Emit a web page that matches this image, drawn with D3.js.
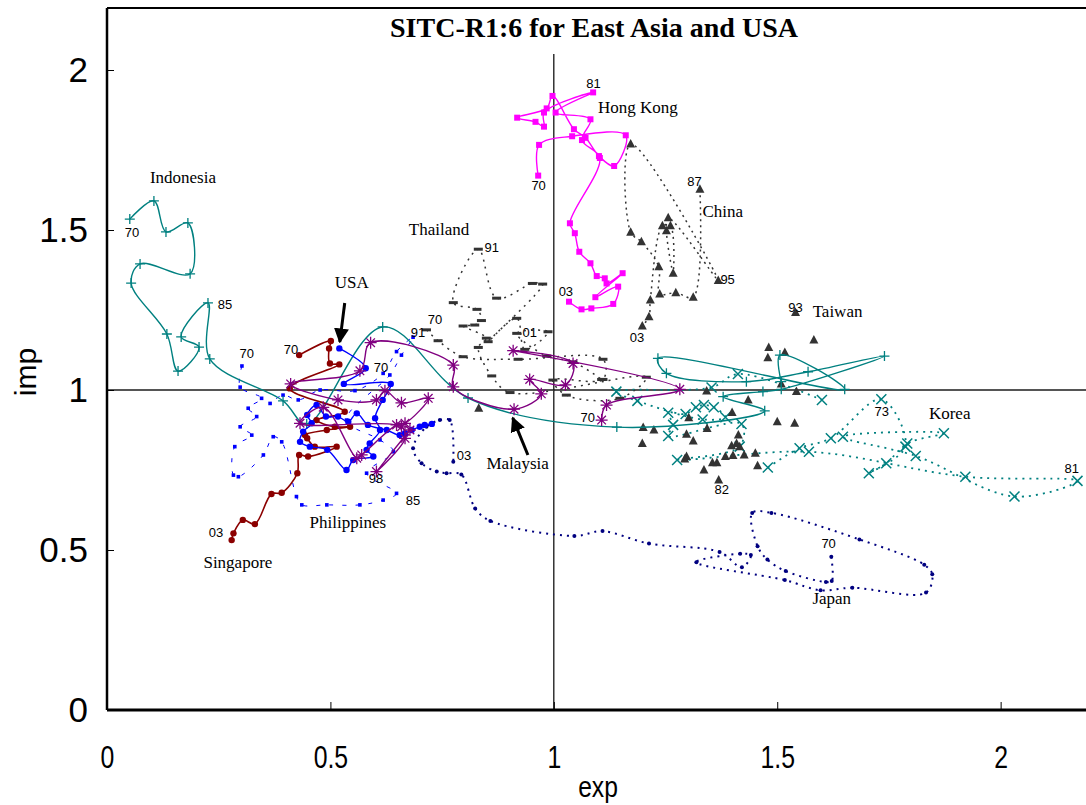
<!DOCTYPE html>
<html><head><meta charset="utf-8">
<script src="https://cdn.jsdelivr.net/npm/d3@7"></script>
<style>body{margin:0;background:#fff;overflow:hidden}</style>
</head><body><svg id="c" width="1086" height="805"></svg>
<script>
// ---- data: [exp, imp] by year ----
const indonesia = [[0.051,1.534],[0.105,1.591],[0.132,1.494],[0.181,1.522],[0.186,1.363],[0.074,1.394],[0.054,1.334],[0.134,1.175],[0.159,1.059],[0.206,1.134],[0.166,1.166],[0.226,1.272],[0.230,1.097],[0.394,0.966],[0.447,0.894],[0.617,1.197],[0.808,0.975],[1.141,0.884],[1.472,0.935],[1.379,0.979],[1.468,0.995],[1.509,1.002],[1.740,1.106],[1.569,1.057],[1.431,1.026],[1.252,1.052],[1.233,1.099],[1.651,1.002],[1.506,1.109],[1.509,1.026]];
const korea = [[1.479,0.758],[1.550,0.818],[1.620,0.849],[1.733,0.971],[1.787,0.823],[1.705,0.740],[1.744,0.771],[1.791,0.833],[1.873,0.865],[1.647,0.854],[1.810,0.794],[2.031,0.667],[2.172,0.716],[1.921,0.729],[1.571,0.807],[1.276,0.781],[1.416,0.823],[1.420,0.894],[1.256,0.856],[1.267,0.891],[1.256,0.929],[1.295,0.925],[1.318,0.946],[1.336,0.953],[1.358,0.946],[1.384,0.915],[1.333,0.908],[1.187,0.966],[1.140,0.995],[1.353,1.008],[1.412,1.050],[1.600,0.969]];
const japan = [[1.621,0.479],[1.622,0.403],[1.609,0.400],[1.519,0.434],[1.478,0.470],[1.456,0.512],[1.444,0.616],[1.487,0.616],[1.684,0.533],[1.829,0.454],[1.847,0.424],[1.833,0.367],[1.668,0.382],[1.597,0.374],[1.517,0.406],[1.319,0.462],[1.417,0.488],[1.441,0.484],[1.421,0.446],[1.371,0.494],[1.213,0.520],[1.109,0.559],[1.046,0.544],[0.858,0.591],[0.824,0.630],[0.793,0.736],[0.760,0.740],[0.738,0.745],[0.704,0.771],[0.685,0.818],[0.715,0.885],[0.745,0.906],[0.767,0.906],[0.775,0.776]];
const hongKong = [[0.965,1.670],[0.967,1.766],[1.041,1.793],[1.161,1.796],[1.135,1.700],[1.101,1.731],[1.071,1.788],[1.045,1.815],[0.997,1.919],[0.984,1.880],[0.918,1.851],[0.959,1.838],[0.978,1.823],[0.978,1.867],[1.088,1.930],[1.004,1.867],[1.082,1.846],[1.063,1.781],[1.103,1.725],[1.036,1.521],[1.047,1.490],[1.057,1.432],[1.082,1.396],[1.096,1.356],[1.114,1.349],[1.118,1.333],[1.154,1.365],[1.093,1.290],[1.144,1.323],[1.133,1.269],[1.084,1.255],[1.062,1.252],[1.034,1.276]];
const china = [[1.327,1.627],[1.312,1.290],[1.273,1.304],[1.237,1.300],[1.235,1.385],[1.196,1.463],[1.172,1.493],[1.172,1.769],[1.368,1.342],[1.256,1.538],[1.252,1.498],[1.267,1.365],[1.261,1.513],[1.243,1.513],[1.216,1.281],[1.213,1.229],[1.198,1.200]];
const taiwan = [[1.541,1.242],[1.582,1.156],[1.481,1.133],[1.479,1.101],[1.517,1.117],[1.342,0.997],[1.509,1.019],[1.543,0.995],[1.435,0.969],[1.399,0.930],[1.500,0.901],[1.539,0.896],[1.200,0.883],[1.224,0.875],[1.198,0.833],[1.302,0.913],[1.343,0.880],[1.297,0.862],[1.312,0.841],[1.413,0.859],[1.398,0.826],[1.409,0.833],[1.416,0.823],[1.426,0.797],[1.451,0.802],[1.401,0.795],[1.384,0.792],[1.297,0.792],[1.293,0.784],[1.355,0.773],[1.365,0.773],[1.336,0.750],[1.456,0.763],[1.369,0.719],[0.832,0.943]];
const thailand = [[0.715,1.188],[0.741,1.154],[0.797,1.104],[0.920,1.096],[1.110,1.096],[1.110,1.033],[0.998,1.031],[1.028,0.984],[1.148,0.974],[1.207,1.040],[0.902,0.992],[0.861,1.044],[0.831,1.133],[0.849,1.162],[0.797,1.200],[0.823,1.203],[0.838,1.217],[0.828,1.252],[0.775,1.273],[0.831,1.440],[0.872,1.287],[0.952,1.333],[0.975,1.331],[0.853,1.151],[0.917,1.224],[0.935,1.127],[0.987,1.182],[0.917,1.177],[0.984,1.106],[1.043,1.088],[1.107,1.033]];
const malaysia = [[1.107,0.906],[1.118,0.953],[1.282,1.002],[0.909,1.123],[1.043,1.083],[1.026,1.016],[0.946,1.033],[0.972,0.988],[0.911,0.940],[0.775,1.010],[0.775,1.078],[0.590,1.148],[0.566,1.060],[0.411,1.019],[0.517,0.969],[0.603,0.969],[0.622,0.998],[0.659,0.960],[0.719,0.974],[0.667,0.896],[0.648,0.891],[0.570,0.797],[0.559,0.787],[0.484,0.946],[0.432,0.896],[0.659,0.885],[0.667,0.849],[0.603,0.745],[0.678,0.875]];
const usa = [[0.520,1.130],[0.579,1.068],[0.530,1.019],[0.635,1.019],[0.617,0.969],[0.600,0.912],[0.611,0.875],[0.588,0.833],[0.581,0.813],[0.596,0.792],[0.551,0.781],[0.536,0.750],[0.493,0.813],[0.454,0.823],[0.432,0.838],[0.439,0.870],[0.458,0.896],[0.448,0.922],[0.469,0.953],[0.490,0.917],[0.517,0.917],[0.540,0.901],[0.559,0.927],[0.584,0.891],[0.626,0.875],[0.655,0.859],[0.667,0.865],[0.682,0.875],[0.700,0.885],[0.711,0.891],[0.727,0.894]];
const singapore = [[0.430,1.109],[0.501,1.153],[0.497,1.130],[0.499,1.083],[0.520,1.080],[0.409,1.005],[0.532,0.932],[0.469,0.906],[0.510,0.885],[0.544,0.885],[0.492,0.875],[0.443,0.859],[0.448,0.849],[0.465,0.823],[0.514,0.823],[0.450,0.792],[0.430,0.797],[0.426,0.740],[0.391,0.679],[0.368,0.675],[0.331,0.581],[0.304,0.594],[0.283,0.552],[0.279,0.531]];
const philippines = [[0.302,1.075],[0.298,1.009],[0.346,0.974],[0.316,0.943],[0.335,0.917],[0.298,0.885],[0.324,0.859],[0.286,0.823],[0.283,0.734],[0.294,0.729],[0.350,0.797],[0.372,0.854],[0.391,0.838],[0.424,0.667],[0.436,0.641],[0.492,0.641],[0.566,0.641],[0.618,0.656],[0.648,0.677],[0.581,0.740],[0.641,0.807],[0.611,0.844],[0.536,0.906],[0.633,1.047],[0.659,1.109],[0.685,1.165],[0.648,1.120],[0.618,1.052],[0.555,0.998],[0.477,1.000],[0.428,0.969],[0.394,0.984],[0.365,0.958]];

const xTicks = [0, 0.5, 1, 1.5, 2];
const yTicks = [0, 0.5, 1, 1.5, 2];
const xTickLabels = ["0", "0.5", "1", "1.5", "2"];
const yTickLabels = ["0", "0.5", "1", "1.5", "2"];
const title = "SITC-R1:6 for East Asia and USA";

// annotations (data coordinates)
const names = [
  ["Indonesia",0.170,1.666],["Thailand",0.743,1.503],["Hong Kong",1.188,1.884],["China",1.378,1.559],
  ["Taiwan",1.635,1.247],["Korea",1.886,0.928],["Malaysia",0.919,0.772],["Japan",1.622,0.350],
  ["Philippines",0.539,0.588],["Singapore",0.293,0.463],["USA",0.548,1.338]
];
const years = [
  ["70",0.056,1.491],["85",0.264,1.266],["70",0.313,1.113],["70",0.412,1.128],["70",0.613,1.072],
  ["91",0.696,1.181],["70",0.734,1.219],["91",0.861,1.444],["01",0.946,1.181],["81",1.089,1.959],
  ["70",0.966,1.638],["03",1.027,1.309],["87",1.315,1.653],["95",1.389,1.344],["03",1.186,1.163],
  ["93",1.541,1.259],["73",1.734,0.934],["81",2.159,0.756],["82",1.376,0.688],["70",1.076,0.913],
  ["03",0.799,0.797],["70",1.615,0.522],["98",0.602,0.725],["85",0.685,0.656],["03",0.244,0.556]
];
const arrows = [[[0.532,1.272],[0.521,1.150]],[[0.942,0.797],[0.908,0.913]]];

// ---- chart ----
const svg = d3.select("#c");
const x = d3.scaleLinear().domain([0,2.2]).range([107,1090]);
const y = d3.scaleLinear().domain([0,2.2]).range([710,6]);

svg.append("defs").append("marker").attr("id","ah").attr("viewBox","0 0 10 10")
  .attr("refX",9).attr("refY",5).attr("markerWidth",5).attr("markerHeight",6).attr("orient","auto")
  .attr("markerUnits","strokeWidth")
  .append("path").attr("d","M0,0L10,5L0,10z").attr("fill","#000");

// reference lines
svg.append("line").attr("x1",x(0)).attr("x2",1086).attr("y1",y(1)).attr("y2",y(1))
  .attr("stroke","#555").attr("stroke-width",2);
svg.append("line").attr("x1",x(1)).attr("x2",x(1)).attr("y1",y(2.05)).attr("y2",y(0))
  .attr("stroke","#000").attr("stroke-width",1.2);

const series = [
  {d: japan, c:"#000080", w:2, dash:"2,5", m:"dot"},
  {d: korea, c:"#008080", w:1.8, dash:"2,5", m:"x"},
  {d: philippines, c:"#0000ff", w:1, dash:"4,9", m:"sq"},
  {d: thailand, c:"#333", w:1.5, dash:"2,5", m:"dash"},
  {d: china, c:"#333", w:1.5, dash:"2,4", m:"tri"},
  {d: taiwan, c:"#333", w:0, dash:null, m:"tri"},
  {d: indonesia, c:"#008080", w:1.4, dash:null, m:"plus"},
  {d: hongKong, c:"#ff00ff", w:1.4, dash:null, m:"square"},
  {d: singapore, c:"#8b0000", w:1.6, dash:null, m:"circle"},
  {d: usa, c:"#0000ff", w:1.4, dash:null, m:"circle"},
  {d: malaysia, c:"#800080", w:1.4, dash:null, m:"star"}
];

const line = d3.line().x(d=>x(d[0])).y(d=>y(d[1])).curve(d3.curveCatmullRom.alpha(0.5));
const plot = svg.append("g");
series.forEach(s=>{
  if (s.w>0) plot.append("path").attr("d",line(s.d)).attr("fill","none")
    .attr("stroke",s.c).attr("stroke-width",s.w).attr("stroke-dasharray",s.dash);
  const g = plot.append("g");
  s.d.forEach(p=>{
    const px=x(p[0]), py=y(p[1]);
    switch(s.m){
      case "plus": g.append("path").attr("d",`M${px-5},${py}h10M${px},${py-5}v10`).attr("stroke",s.c).attr("stroke-width",1.3); break;
      case "x": g.append("path").attr("d",`M${px-5},${py-5}l10,10M${px-5},${py+5}l10,-10`).attr("stroke",s.c).attr("stroke-width",1.5); break;
      case "square": g.append("rect").attr("x",px-3).attr("y",py-3).attr("width",6).attr("height",6).attr("fill",s.c); break;
      case "sq": g.append("rect").attr("x",px-1.8).attr("y",py-1.8).attr("width",3.6).attr("height",3.6).attr("fill",s.c); break;
      case "tri": g.append("path").attr("d",`M${px},${py-5}L${px+4.5},${py+3.5}L${px-4.5},${py+3.5}Z`).attr("fill",s.c); break;
      case "dash": g.append("rect").attr("x",px-4.5).attr("y",py-1.5).attr("width",9).attr("height",3).attr("fill",s.c); break;
      case "circle": g.append("circle").attr("cx",px).attr("cy",py).attr("r",3.2).attr("fill",s.c); break;
      case "dot": g.append("circle").attr("cx",px).attr("cy",py).attr("r",2).attr("fill",s.c); break;
      case "star": g.append("path").attr("d",`M${px},${py-6}v12M${px-6},${py}h12M${px-4.3},${py-4.3}l8.6,8.6M${px-4.3},${py+4.3}l8.6,-8.6`).attr("stroke",s.c).attr("stroke-width",1.3); break;
    }
  });
});

// arrows
arrows.forEach(a=>{
  svg.append("line").attr("x1",x(a[0][0])).attr("y1",y(a[0][1])).attr("x2",x(a[1][0])).attr("y2",y(a[1][1]))
    .attr("stroke","#000").attr("stroke-width",3).attr("marker-end","url(#ah)");
});

// text annotations
svg.append("g").selectAll("text").data(names).join("text")
  .attr("x",d=>x(d[1])).attr("y",d=>y(d[2])).attr("dy","0.35em").attr("text-anchor","middle")
  .attr("font-family","Liberation Serif, Times New Roman, serif").attr("font-size",17).text(d=>d[0]);
svg.append("g").selectAll("text").data(years).join("text")
  .attr("x",d=>x(d[1])).attr("y",d=>y(d[2])).attr("dy","0.35em").attr("text-anchor","middle")
  .attr("font-family","Liberation Sans, Arial, sans-serif").attr("font-size",13).text(d=>d[0]);

// axes
const ax = svg.append("g").attr("transform",`translate(0,${y(0)})`)
  .call(d3.axisBottom(x).tickValues(xTicks).tickFormat((d,i)=>xTickLabels[i]).tickSize(-8).tickPadding(36).tickSizeOuter(0));
ax.select(".domain").attr("stroke-width",3).attr("d",`M${x(0)},0H1086`);
ax.selectAll("text").attr("font-family","Liberation Sans, Arial, sans-serif").attr("font-size",31)
  .attr("transform","scale(0.8,1)");
const ay = svg.append("g").attr("transform",`translate(${x(0)},0)`)
  .call(d3.axisLeft(y).tickValues(yTicks).tickFormat((d,i)=>yTickLabels[i]).tickSize(-7).tickPadding(19).tickSizeOuter(0));
ay.select(".domain").attr("stroke-width",2.5).attr("d",`M0,${y(2.2)+2}V${y(0)}`);
ay.selectAll("text").attr("font-family","Liberation Sans, Arial, sans-serif").attr("font-size",35);
ay.selectAll(".tick").filter(d=>d===0).select("line").remove();
ax.selectAll(".tick").filter(d=>d===0).select("line").remove();

// top border
svg.append("line").attr("x1",x(0)).attr("x2",1086).attr("y1",y(2.2)+2).attr("y2",y(2.2)+2).attr("stroke","#000").attr("stroke-width",2);

// titles
svg.append("text").attr("x",594).attr("y",37).attr("text-anchor","middle")
  .attr("font-family","Liberation Serif, Times New Roman, serif").attr("font-weight","bold").attr("font-size",28).text(title);
svg.append("text").attr("transform","translate(598,797) scale(0.85,1)").attr("text-anchor","middle")
  .attr("font-family","Liberation Sans, Arial, sans-serif").attr("font-size",29).text("exp");
svg.append("text").attr("transform","translate(36,372) rotate(-90)").attr("text-anchor","middle")
  .attr("font-family","Liberation Sans, Arial, sans-serif").attr("font-size",30).text("imp");
</script></body></html>
